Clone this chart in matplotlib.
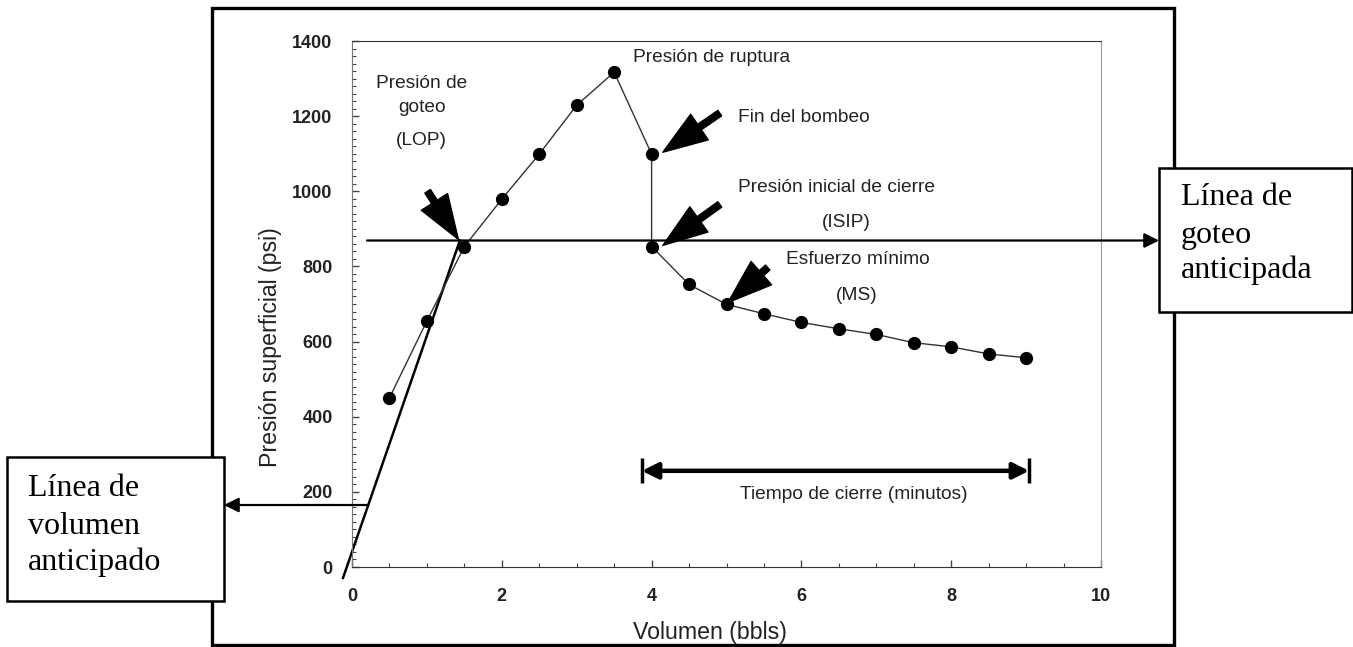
import matplotlib
matplotlib.use("Agg")
import matplotlib.pyplot as plt
import matplotlib.patches as mpatches
from matplotlib.ticker import MultipleLocator

# data
volumen = [0.5, 1.0, 1.5, 2.0, 2.5, 3.0, 3.5, 4.0, 4.0, 4.5, 5.0, 5.5, 6.0, 6.5, 7.0, 7.5, 8.0, 8.5, 9.0]
presion = [450, 655, 853, 979, 1099, 1229, 1317, 1099, 853, 752, 699, 674, 651, 634, 619, 597, 586, 567, 557]

linea_goteo = 869                        # psi, horizontal line
tangente_x = [-0.12, 1.44]               # volume line through LOP
tangente_y = [-29, 869]
volumen_anticipado_y = 165

cierre_ini, cierre_fin, cierre_y = 3.87, 9.04, 256

# (text, x, y, ha)
etiquetas = [
    ("Presión de ruptura", 3.75, 1355, "left"),
    ("Fin del bombeo", 5.15, 1197, "left"),
    ("Presión inicial de cierre", 5.15, 1011, "left"),
    ("(ISIP)", 6.6, 917, "center"),
    ("Esfuerzo mínimo", 5.79, 819, "left"),
    ("(MS)", 6.74, 723, "center"),
    ("Presión de", 0.93, 1288, "center"),
    ("goteo", 0.93, 1224, "center"),
    ("(LOP)", 0.93, 1136, "center"),
    ("Tiempo de cierre (minutos)", 6.7, 193, "center"),
]

# (from, to) big pointer arrows
flechas = [
    ((1.01, 1000), (1.42, 872)),
    ((4.91, 1208), (4.15, 1104)),
    ((4.91, 965), (4.15, 856)),
    ((5.55, 797), (5.02, 704)),
]

caja_izq = ["Línea de", "volumen", "anticipado"]
caja_der = ["Línea de", "goteo", "anticipada"]

W, H = 1353, 647
fig = plt.figure(figsize=(W / 100, H / 100), dpi=100)
ax = fig.add_axes([352 / W, 1 - 567 / H, (1101 - 352) / W, (567 - 41) / H])

ax.plot(volumen, presion, color="#333333", lw=1, marker="o", ms=8.5,
        mfc="black", mec="black", zorder=3)

ax.set_xlim(0, 10)
ax.set_ylim(0, 1400)
ax.xaxis.set_major_locator(MultipleLocator(2))
ax.xaxis.set_minor_locator(MultipleLocator(0.5))
ax.yaxis.set_major_locator(MultipleLocator(200))
ax.yaxis.set_minor_locator(MultipleLocator(20))
ax.tick_params(which="both", direction="in", top=False, right=False, color="#444444")
ax.tick_params(which="major", length=5, width=1)
ax.tick_params(which="minor", length=3, width=0.8)
for lab in ax.get_xticklabels() + ax.get_yticklabels():
    lab.set_fontfamily("Liberation Sans")
    lab.set_fontweight("bold")
    lab.set_fontsize(13)
    lab.set_color("#222222")
ax.tick_params(axis="y", pad=14)
ax.tick_params(axis="x", pad=15)

ax.spines["right"].set_color("#999999")
ax.spines["left"].set_color("#777777")
ax.spines["top"].set_color("#333333")
ax.spines["bottom"].set_color("#333333")

ax.set_xlabel("Volumen (bbls)", fontsize=16.7, family="Liberation Sans", color="#222222")
ax.set_ylabel("Presión superficial (psi)", fontsize=16.7, family="Liberation Sans", color="#222222")
ax.xaxis.set_label_coords((710 - 352) / 749, -(633 - 567) / 526, transform=ax.transAxes)
ax.yaxis.set_label_coords(-(352 - 270) / 749, (567 - 347) / 526, transform=ax.transAxes)
ax.xaxis.label.set_va("center")
ax.yaxis.label.set_va("center")

for txt, x, y, ha in etiquetas:
    ax.text(x, y, txt, ha=ha, va="center", fontsize=13.8, family="Liberation Sans", color="#222222")

for (x0, y0), (x1, y1) in flechas:
    ax.annotate("", xy=(x1, y1), xytext=(x0, y0),
                arrowprops=dict(arrowstyle="simple,head_length=2.0,head_width=1.4,tail_width=0.3",
                                mutation_scale=16, fc="black", ec="black", shrinkA=0, shrinkB=0))

# anticipated lines
ax.plot(tangente_x, tangente_y, color="black", lw=1.8, clip_on=False, zorder=2)
ax.annotate("", xy=((1159 - 352) / 74.9, linea_goteo), xytext=(0.2, linea_goteo),
            arrowprops=dict(arrowstyle="-|>", mutation_scale=22, lw=1.6, color="black",
                            shrinkA=0, shrinkB=0), annotation_clip=False)
x_tan = tangente_x[0] + (volumen_anticipado_y - tangente_y[0]) * (tangente_x[1] - tangente_x[0]) / (tangente_y[1] - tangente_y[0])
ax.annotate("", xy=((224 - 352) / 74.9, volumen_anticipado_y), xytext=(x_tan, volumen_anticipado_y),
            arrowprops=dict(arrowstyle="-|>", mutation_scale=22, lw=1.6, color="black",
                            shrinkA=0, shrinkB=0), annotation_clip=False)

# shut-in time span
ax.annotate("", xy=(cierre_fin, cierre_y), xytext=(cierre_ini, cierre_y),
            arrowprops=dict(arrowstyle="<|-|>", mutation_scale=24, lw=3.2, color="black",
                            shrinkA=0, shrinkB=0))
ax.vlines([cierre_ini, cierre_fin], cierre_y - 33, cierre_y + 33, color="black", lw=2.5)

# outer frame
fig.patches.append(mpatches.Rectangle((212 / W, 1 - 645 / H), (1174 - 212) / W, (645 - 8) / H,
                                      transform=fig.transFigure, fill=False, lw=2.4, ec="black", zorder=1))

def caja(x0, y0, x1, y1, lineas, xt, ys):
    fig.patches.append(mpatches.Rectangle((x0 / W, 1 - y1 / H), (x1 - x0) / W, (y1 - y0) / H,
                                          transform=fig.transFigure, fc="white", ec="black",
                                          lw=1.8, zorder=5))
    for linea, yt in zip(lineas, ys):
        fig.text(xt / W, 1 - yt / H, linea, ha="left", va="center", fontsize=23,
                 family="Liberation Serif", color="black", zorder=6)

caja(7, 457, 224, 601, caja_izq, 28, [488, 526, 562])
caja(1159, 168, 1352, 312, caja_der, 1181, [198, 235, 270])

fig.savefig("out.png", dpi=100)
